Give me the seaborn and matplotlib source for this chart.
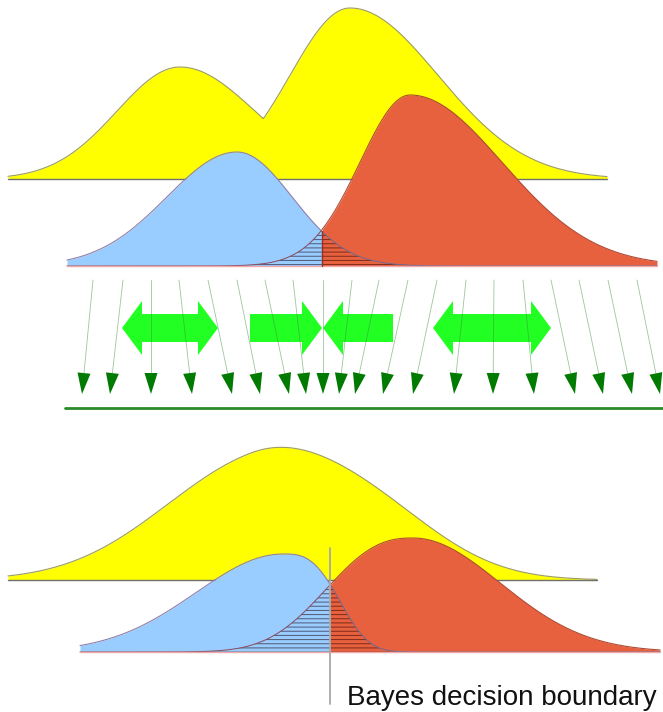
import numpy as np
import matplotlib
matplotlib.use("Agg")
import matplotlib.pyplot as plt
import seaborn as sns
from matplotlib.patches import Polygon

# density shapes (pixel units)
# each bump: (peak x, peak height, spread left, spread right, exponent left, exponent right)
top_mix = [(180, 112, 63, 75, 2, 2), (350, 171, 60, 88, 2, 2)]
top_blue = [(237, 114, 70, 55, 2, 2)]
top_red = [(410, 171, 50, 92, 2, 2)]
bot_mix = [(252, 110, 95, 80, 2, 2), (370, 60, 75, 75, 2, 2)]
bot_blue = [(283, 98, 87, 52, 2, 3)]
bot_red = [(413, 114, 81, 87, 2.5, 2)]

# projection lines: where each starts (top) and where it lands (arrow tip)
line_starts = [93, 123, 151, 179, 208, 237, 265, 293, 323, 352,
               379, 408, 437, 466, 494, 523, 551, 579, 608, 637]
line_tips = [82, 110, 151, 192, 232, 260, 289, 306, 323, 339,
             355, 383, 413, 454, 493, 534, 575, 603, 632, 660]

# big green arrows: (left x, right x, head on left, head on right)
push_arrows = [(122, 218, True, True), (250, 322, False, True),
               (323, 393, True, False), (433, 551, True, True)]

label = "Bayes decision boundary"

YELLOW = "#ffff00"
BLUE = "#99ccff"
RED = "#e8613f"


def density(x, bumps, how="sum"):
    parts = []
    for mu, h, sl, sr, pl, pr in bumps:
        d = x - mu
        s = np.where(d < 0, sl, sr)
        p = np.where(d < 0, pl, pr)
        parts.append(h * np.exp(-0.5 * (np.abs(d) / s) ** p))
    parts = np.array(parts)
    return parts.max(axis=0) if how == "max" else parts.sum(axis=0)


def outline(ax, x, y, color, lw=0.8, z=2):
    sns.lineplot(x=x, y=y, ax=ax, color=color, lw=lw, sort=False,
                 estimator=None, zorder=z)


def draw_mixture(ax, bumps, how, base, x0, x1):
    x = np.linspace(x0, x1, 1200)
    h = density(x, bumps, how)
    ax.fill_between(x, base, base - h, color=YELLOW, lw=0, zorder=1)
    outline(ax, x, base - h, "#9c9c5a", z=1)
    ax.plot([x0, x1], [base, base], color="#707070", lw=1, zorder=1)


def draw_classes(ax, blue, red, base, x0, x1, xb, hatch_gap):
    x = np.linspace(x0, x1, 1600)
    hb = density(x, blue)
    hr = density(x, red)
    hmin = np.minimum(hb, hr)
    L = x <= xb
    R = x >= xb
    ax.fill_between(x[L], base, base - hb[L], color=BLUE, lw=0)
    ax.fill_between(x[R], base, base - hr[R], color=RED, lw=0)
    ax.fill_between(x[L], base, base - hmin[L], facecolor="none",
                    edgecolor="#4f5877", hatch=hatch_gap, lw=0)
    ax.fill_between(x[R], base, base - hmin[R], facecolor="none",
                    edgecolor="#7d2a18", hatch=hatch_gap, lw=0)
    outline(ax, x[L], base - hb[L], "#8f80a8")
    outline(ax, x[R], base - hb[R], "#6e6a92", lw=0.7)
    outline(ax, x[R], base - hr[R], "#b04a34")
    outline(ax, x[L], base - hr[L], "#8a4a5a", lw=0.7)
    ax.plot([x0, x1], [base, base], color="#f0a8a8", lw=1)
    return density(np.array([xb]), blue)[0]


sns.set_theme(style="white")
plt.rcParams["font.family"] = ["Liberation Sans", "DejaVu Sans"]
plt.rcParams["hatch.linewidth"] = 0.7

fig = plt.figure(figsize=(6.63, 7.12), dpi=100)
ax = fig.add_axes([0, 0, 1, 1])
ax.set_xlim(0, 663)
ax.set_ylim(712, 0)
ax.axis("off")

# top: original space
draw_mixture(ax, top_mix, "max", 179, 8, 607)
hx = draw_classes(ax, top_blue, top_red, 266, 67, 657, 322, "----")
ax.plot([322, 322], [266 - hx, 266], color="#9a3020", lw=1)

# middle: projection
for x0, x1, lh, rh in push_arrows:
    yc, sh, hh, hl = 328, 14, 27, 20
    a = x0 + hl if lh else x0
    b = x1 - hl if rh else x1
    pts = []
    if lh:
        pts += [(x0, yc), (a, yc - hh), (a, yc - sh)]
    else:
        pts += [(x0, yc - sh)]
    if rh:
        pts += [(b, yc - sh), (b, yc - hh), (x1, yc), (b, yc + hh), (b, yc + sh)]
    else:
        pts += [(b, yc - sh), (b, yc + sh)]
    if lh:
        pts += [(a, yc + sh), (a, yc + hh)]
    else:
        pts += [(x0, yc + sh)]
    ax.add_patch(Polygon(pts, closed=True, facecolor="#22ff22", edgecolor="none"))

for xs, xt in zip(line_starts, line_tips):
    top = np.array([xs, 280.0])
    tip = np.array([xt, 394.0])
    u = (tip - top) / np.linalg.norm(tip - top)
    n = np.array([-u[1], u[0]])
    back = tip - 21 * u
    ax.plot([top[0], back[0]], [top[1], back[1]], color="#3c8c3c", lw=0.6, alpha=0.5)
    ax.add_patch(Polygon([tip, back + 6.5 * n, back - 6.5 * n], closed=True,
                         facecolor="#007a00", edgecolor="none"))

ax.plot([65, 663], [408, 408], color="#2a8a2a", lw=2)

# bottom: projected space
draw_mixture(ax, bot_mix, "sum", 580, 8, 597)
draw_classes(ax, bot_blue, bot_red, 652, 80, 660, 330, "----")
ax.plot([330, 330], [548, 704], color="#a8a8a8", lw=1.3)

ax.text(347, 705, label, fontsize=20, ha="left", va="baseline", color="#111111")

fig.savefig("out.png", dpi=100)
